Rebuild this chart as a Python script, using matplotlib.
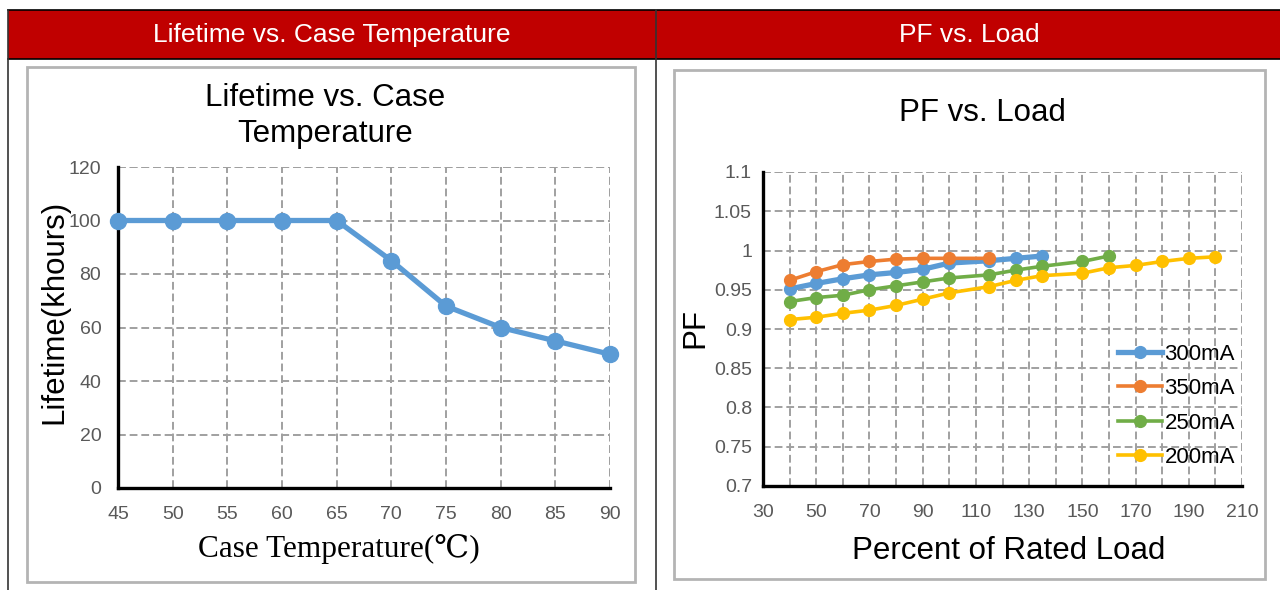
import matplotlib
matplotlib.use('Agg')
import matplotlib.pyplot as plt
from matplotlib.patches import Rectangle
from matplotlib.lines import Line2D

# 왼쪽 차트 데이터: 케이스 온도별 수명
case_temp = [45, 50, 55, 60, 65, 70, 75, 80, 85, 90]
lifetime = [100, 100, 100, 100, 100, 85, 68, 60, 55, 50]

# 오른쪽 차트 데이터: 부하율별 PF
load_300 = [40, 50, 60, 70, 80, 90, 100, 115, 125, 135]
pf_300 = [0.951, 0.958, 0.964, 0.969, 0.972, 0.976, 0.984, 0.987, 0.990, 0.993]
load_350 = [40, 50, 60, 70, 80, 90, 100, 115]
pf_350 = [0.962, 0.973, 0.982, 0.986, 0.989, 0.990, 0.990, 0.990]
load_250 = [40, 50, 60, 70, 80, 90, 100, 115, 125, 135, 150, 160]
pf_250 = [0.935, 0.940, 0.943, 0.950, 0.955, 0.960, 0.965, 0.969, 0.975, 0.980, 0.986, 0.993]
load_200 = [40, 50, 60, 70, 80, 90, 100, 115, 125, 135, 150, 160, 170, 180, 190, 200]
pf_200 = [0.912, 0.915, 0.920, 0.924, 0.930, 0.938, 0.946, 0.954, 0.962, 0.968,
          0.971, 0.978, 0.981, 0.986, 0.990, 0.992]

series_names = ['300mA', '350mA', '250mA', '200mA']
series_colors = ['#5B9BD5', '#ED7D31', '#70AD47', '#FFC000']

header_left = 'Lifetime vs. Case Temperature'
header_right = 'PF vs. Load'

W, H = 1280, 590
fig = plt.figure(figsize=(W / 100, H / 100), dpi=100)
plt.rcParams['font.family'] = ['Liberation Sans', 'DejaVu Sans']


def fx(x):
    return x / W


def fy(y):
    return 1 - y / H


# 헤더 (빨간 띠 + 테두리)
fig.add_artist(Rectangle((fx(8), fy(59)), fx(W - 8), 49 / H, transform=fig.transFigure,
                         facecolor='#C00000', edgecolor='none'))
for y in [10, 59]:
    fig.add_artist(Line2D([fx(8), 1], [fy(y), fy(y)], transform=fig.transFigure, color='black', lw=1.2))
for x in [8, 656]:
    fig.add_artist(Line2D([fx(x), fx(x)], [fy(10), 0], transform=fig.transFigure, color='#333333', lw=1.2))
fig.text(fx(332), fy(35), header_left, color='white', fontsize=19, ha='center', va='center')
fig.text(fx(969), fy(35), header_right, color='white', fontsize=19, ha='center', va='center')

# 차트 테두리 (회색)
fig.add_artist(Rectangle((fx(27), fy(582)), fx(635 - 27), (582 - 67) / H, transform=fig.transFigure,
                         facecolor='none', edgecolor='#B4B4B4', lw=2))
fig.add_artist(Rectangle((fx(674), fy(579)), fx(1265 - 674), (579 - 70) / H, transform=fig.transFigure,
                         facecolor='none', edgecolor='#B4B4B4', lw=2))

grid_kw = dict(color='#A0A0A0', linestyle=(0, (4, 2)), linewidth=1.4)


def style_axes(ax):
    for s in ['top', 'right']:
        ax.spines[s].set_visible(False)
    for s in ['left', 'bottom']:
        ax.spines[s].set_linewidth(2.4)
        ax.spines[s].set_color('black')
        ax.spines[s].set_zorder(5)
    ax.tick_params(length=0, labelsize=14, labelcolor='#595959')
    ax.grid(True, **grid_kw)
    ax.set_axisbelow(True)


#################################
# 왼쪽: Lifetime vs. Case Temperature
ax1 = fig.add_axes([fx(118), fy(488), fx(610 - 118), (488 - 167) / H])
ax1.plot(case_temp, lifetime, color='#5B9BD5', lw=3.8, marker='o', ms=11.5, clip_on=False, zorder=6)
ax1.set_xlim(45, 90)
ax1.set_ylim(0, 120)
ax1.set_xticks(range(45, 91, 5))
ax1.set_yticks(range(0, 121, 20))
style_axes(ax1)
ax1.tick_params(axis='x', pad=13)
ax1.tick_params(axis='y', pad=12)
# 위/오른쪽 점선 테두리
ax1.axhline(120, **grid_kw)
ax1.axvline(90, **grid_kw)
fig.text(fx(325), fy(116), 'Lifetime vs. Case\nTemperature', fontsize=22.5, ha='center', va='center',
         linespacing=1.27)
ax1.set_ylabel('Lifetime(khours)', fontsize=22.5)
ax1.yaxis.set_label_coords(-0.098, 0.548)
ax1.set_xlabel('Case Temperature(\u2103)', fontsize=22.5,
               family=['Liberation Serif', 'DejaVu Serif'])
ax1.xaxis.set_label_coords(0.449, -0.143)

#################################
# 오른쪽: PF vs. Load
ax2 = fig.add_axes([fx(763), fy(486), fx(1242 - 763), (486 - 172) / H])
loads = [load_300, load_350, load_250, load_200]
pfs = [pf_300, pf_350, pf_250, pf_200]
widths = [3.8, 2.6, 2.6, 2.6]
for ld, pf, name, c, lw in zip(loads, pfs, series_names, series_colors, widths):
    ax2.plot(ld, pf, color=c, lw=lw, marker='o', ms=8.5, label=name, zorder=6)
ax2.set_xlim(30, 210)
ax2.set_ylim(0.7, 1.1)
ax2.set_xticks(range(30, 211, 10))
ax2.set_xticklabels([str(v) if (v - 30) % 20 == 0 else '' for v in range(30, 211, 10)])
ax2.set_yticks([0.7, 0.75, 0.8, 0.85, 0.9, 0.95, 1.0, 1.05, 1.1])
ax2.set_yticklabels(['0.7', '0.75', '0.8', '0.85', '0.9', '0.95', '1', '1.05', '1.1'])
style_axes(ax2)
ax2.tick_params(axis='x', pad=13)
ax2.tick_params(axis='y', pad=8)
ax2.axhline(1.1, **grid_kw)
ax2.axvline(210, **grid_kw)
fig.text(fx(982), fy(113), 'PF vs. Load', fontsize=22.5, ha='center', va='center')
ax2.set_ylabel('PF', fontsize=22.5)
ax2.yaxis.set_label_coords(-0.109, 0.503)
ax2.set_xlabel('Percent of Rated Load', fontsize=22.5)
ax2.xaxis.set_label_coords((1009 - 763) / 479, -0.159)
ax2.legend(loc='center right', bbox_to_anchor=(1.013, 0.255), frameon=False, fontsize=16,
           handlelength=2.0, handletextpad=0.1, labelspacing=0.6, borderpad=0.1)

fig.savefig('out.png', dpi=100)
